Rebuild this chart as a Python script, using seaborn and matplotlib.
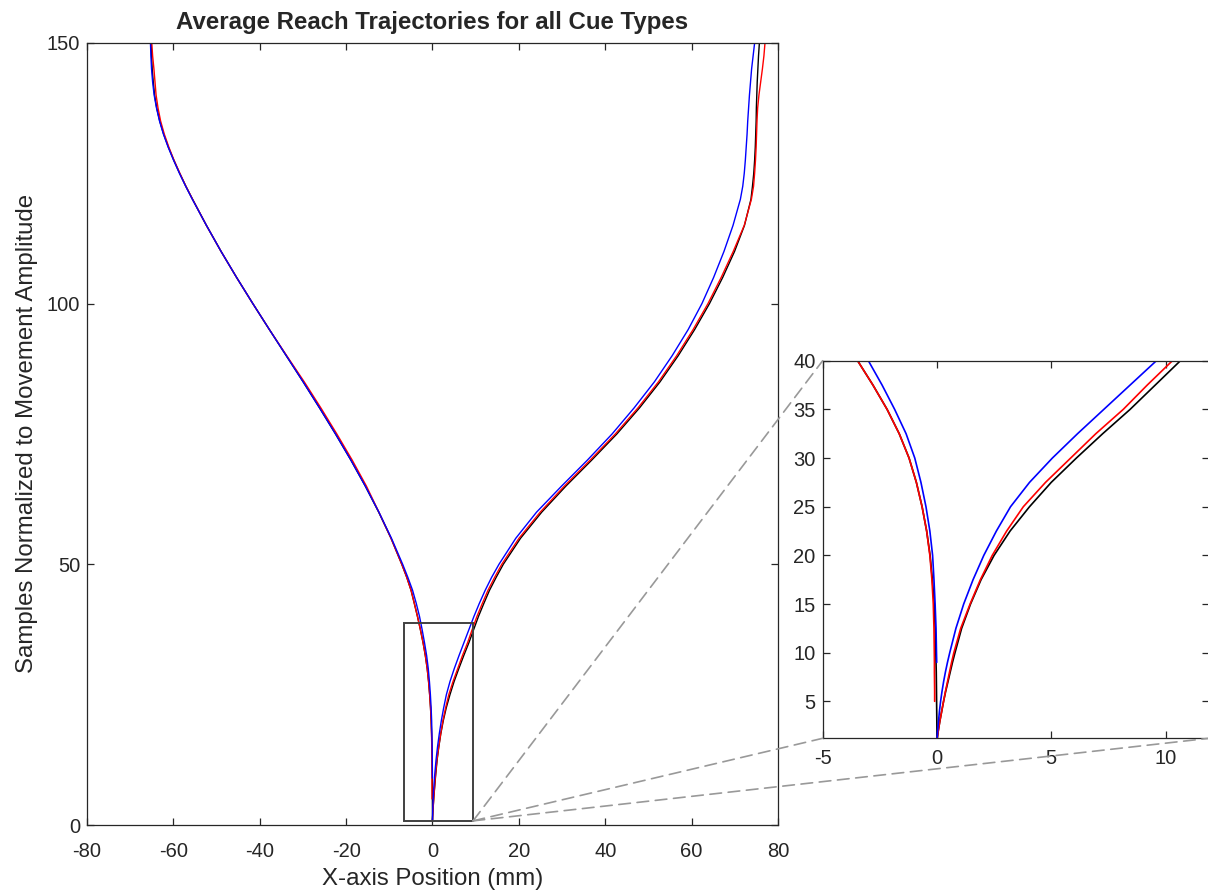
import numpy as np
import pandas as pd
import matplotlib
matplotlib.use("Agg")
import matplotlib.pyplot as plt
from matplotlib.patches import Rectangle, ConnectionPatch
import seaborn as sns

# sample index (normalized to movement amplitude)
y_samples = [1, 2, 3, 4, 5, 6, 7, 8, 9, 10,
             12.5, 15, 17.5, 20, 22.5, 25, 27.5, 30, 32.5, 35, 37.5, 40,
             42.5, 45, 47.5, 50,
             55, 60, 65, 70, 75, 80, 85, 90, 95, 100, 105, 110, 115, 120,
             122.5, 125, 127.5, 130, 132.5, 135, 137.5, 140, 142.5, 145, 147.5, 150]

nan = np.nan
# x position (mm), reaches to the left target
black_left = [0, 0, -0.005, -0.01, -0.015, -0.02, -0.025, -0.03, -0.04, -0.05,
              -0.08, -0.12, -0.2, -0.3, -0.45, -0.65, -0.9, -1.22, -1.65, -2.18, -2.8, -3.47,
              -4.2, -4.95, -5.95, -7.1,
              -9.6, -12.45, -15.55, -18.9, -22.45, -26.15, -29.95, -33.85, -37.75, -41.6,
              -45.35, -48.95, -52.35, -55.55,
              -57.1, -58.55, -59.9, -61.15, -62.25, -63.15, -63.85, -64.35, -64.65, -64.9,
              -65.05, -65.15]
red_left = [nan, nan, nan, nan, -0.1, -0.1, -0.105, -0.11, -0.11, -0.115,
            -0.13, -0.16, -0.22, -0.31, -0.45, -0.65, -0.9, -1.22, -1.65, -2.18, -2.8, -3.47,
            -4.2, -4.95, -5.95, -7.1,
            -9.6, -12.4, -15.3, -18.6, -22.15, -25.85, -29.7, -33.75, -37.75, -41.6,
            -45.35, -48.95, -52.35, -55.55,
            -57.1, -58.5, -59.85, -61.05, -62.1, -62.95, -63.55, -64.0, -64.25, -64.5,
            -64.8, -65.0]
blue_left = [nan, nan, nan, nan, nan, nan, nan, nan, -0.01, -0.02,
             -0.04, -0.08, -0.13, -0.19, -0.31, -0.48, -0.7, -0.97, -1.35, -1.85, -2.4, -3.0,
             -3.75, -4.6, -5.7, -6.9,
             -9.5, -12.4, -15.55, -18.9, -22.45, -26.15, -29.95, -33.85, -37.75, -41.6,
             -45.35, -48.95, -52.35, -55.6,
             -57.15, -58.6, -59.95, -61.2, -62.3, -63.2, -63.9, -64.45, -64.8, -65.05,
             -65.2, -65.3]

# x position (mm), reaches to the right target
black_right = [0, 0.06, 0.13, 0.21, 0.29, 0.38, 0.48, 0.58, 0.68, 0.79,
               1.08, 1.47, 1.93, 2.5, 3.2, 4.05, 5.0, 6.1, 7.25, 8.45, 9.55, 10.65,
               11.9, 13.2, 14.75, 16.4,
               20.4, 25.3, 30.9, 36.9, 42.7, 47.95, 52.7, 56.9, 60.7, 64.15,
               67.2, 69.95, 72.25, 73.75,
               74.1, 74.4, 74.6, 74.75, 74.85, 74.95, 75.0, 75.1, 75.2, 75.35, 75.5, 75.7]
red_right = [0, 0.06, 0.13, 0.21, 0.29, 0.37, 0.46, 0.55, 0.64, 0.74,
             1.04, 1.45, 1.9, 2.42, 3.05, 3.78, 4.75, 5.85, 6.95, 8.15, 9.2, 10.3,
             11.55, 12.85, 14.4, 16.05,
             20.05, 24.95, 30.55, 36.55, 42.35, 47.6, 52.35, 56.55, 60.35, 63.8,
             66.85, 69.65, 72.2, 73.85,
             74.35, 74.6, 74.8, 74.95, 75.05, 75.15, 75.3, 75.6, 76.0, 76.4, 76.75, 77.0]
blue_right = [0, 0.03, 0.07, 0.11, 0.16, 0.22, 0.29, 0.37, 0.46, 0.56,
              0.83, 1.17, 1.58, 2.05, 2.6, 3.22, 4.05, 5.05, 6.15, 7.3, 8.45, 9.6,
              10.85, 12.2, 13.7, 15.4,
              19.3, 24.1, 29.9, 35.9, 41.6, 46.7, 51.4, 55.5, 59.2, 62.4,
              65.1, 67.5, 69.6, 71.3,
              71.85, 72.2, 72.45, 72.65, 72.85, 73.0, 73.2, 73.4, 73.65, 73.9, 74.25, 74.6]

cue_colors = {"black": "#000000", "red": "#ff0000", "blue": "#0000ff"}

# zoom box drawn on the main axes
zoom_box_x = (-6.6, 9.4)
zoom_box_y = (0.8, 38.8)

frames = []
for cue, xl, xr in [("black", black_left, black_right),
                    ("red", red_left, red_right),
                    ("blue", blue_left, blue_right)]:
    for side, xs in [("left", xl), ("right", xr)]:
        frames.append(pd.DataFrame({"x": xs, "y": y_samples, "cue": cue, "side": side}))
df = pd.concat(frames, ignore_index=True).dropna()

sns.set_style("ticks")
plt.rcParams["font.family"] = ["Liberation Sans", "DejaVu Sans"]
plt.rcParams["axes.unicode_minus"] = False
plt.rcParams["axes.edgecolor"] = "#262626"
plt.rcParams["xtick.color"] = "#262626"
plt.rcParams["ytick.color"] = "#262626"
plt.rcParams["axes.linewidth"] = 0.9

fig = plt.figure(figsize=(12.08, 8.96), dpi=100)
ax = fig.add_axes([0.072, 0.0792, 0.572, 0.873])
axins = fig.add_axes([0.681, 0.176, 0.3198, 0.4214])


def draw_curves(a, lw):
    sns.lineplot(data=df, x="x", y="y", hue="cue", units="side", estimator=None,
                 sort=False, palette=cue_colors, hue_order=["black", "red", "blue"],
                 linewidth=lw, legend=False, ax=a)
    a.set_xlabel("")
    a.set_ylabel("")
    a.tick_params(direction="in", top=True, right=True, labelsize=14.5, length=5,
                  width=0.9, labelcolor="#262626")
    a.tick_params(axis="y", pad=5)
    for s in a.spines.values():
        s.set_visible(True)


draw_curves(ax, 1.0)
ax.tick_params(axis="x", pad=12)
ax.set_xlim(-80, 80)
ax.set_ylim(0, 150)
ax.set_xticks(range(-80, 81, 20))
ax.set_yticks([0, 50, 100, 150])
ax.set_xlabel("X-axis Position (mm)", fontsize=17.3, color="#262626", labelpad=5)
ax.set_ylabel("Samples Normalized to Movement Amplitude", fontsize=17.3,
              color="#262626", labelpad=6)
ax.set_title("Average Reach Trajectories for all Cue Types", fontsize=17.3,
             fontweight="bold", pad=10)

ax.add_patch(Rectangle((zoom_box_x[0], zoom_box_y[0]), zoom_box_x[1] - zoom_box_x[0],
                       zoom_box_y[1] - zoom_box_y[0], fill=False, edgecolor="#404040",
                       linewidth=1.4, zorder=5))

draw_curves(axins, 1.2)
axins.tick_params(axis="x", pad=8)
axins.set_xlim(-5, 11.9)
axins.set_ylim(1.2, 40)
axins.set_xticks([-5, 0, 5, 10])
axins.set_yticks(range(5, 41, 5))

# dashed connectors from the box corner to the inset corners
for corner in [(0, 1), (0, 0), (1, 0)]:
    con = ConnectionPatch(xyA=(zoom_box_x[1], zoom_box_y[0]), coordsA="data", axesA=ax,
                          xyB=corner, coordsB="axes fraction", axesB=axins,
                          color="#999999", linewidth=1.2, linestyle=(0, (7, 4)))
    fig.add_artist(con)

fig.savefig("out.png", dpi=100)
